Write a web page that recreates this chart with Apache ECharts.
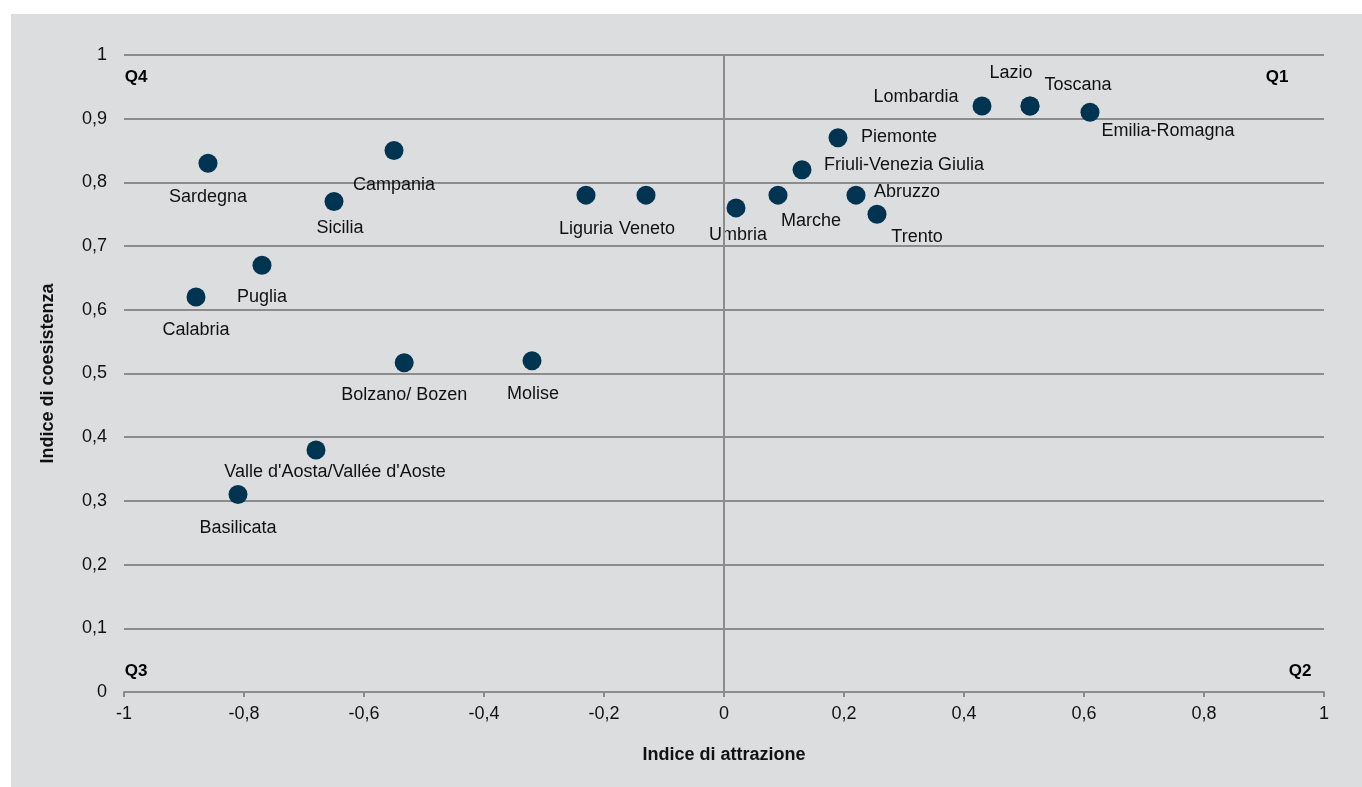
<!DOCTYPE html>
<html>
<head>
<meta charset="utf-8">
<script src="https://cdn.jsdelivr.net/npm/echarts@6/dist/echarts.min.js"></script>
<style>
html,body{margin:0;padding:0;background:#ffffff;}
#chart{position:absolute;left:11px;top:14px;width:1351px;height:773px;}
</style>
</head>
<body>
<div id="chart"></div>
<script>
// Data
const regions = ["Lombardia","Lazio","Toscana","Emilia-Romagna","Piemonte","Friuli-Venezia Giulia","Abruzzo","Trento","Marche","Umbria","Veneto","Liguria","Campania","Sardegna","Sicilia","Puglia","Calabria","Bolzano/ Bozen","Molise","Valle d'Aosta/Vallée d'Aoste","Basilicata"];
const attrazione = [0.43,0.51,0.51,0.61,0.19,0.13,0.22,0.255,0.09,0.02,-0.13,-0.23,-0.55,-0.86,-0.65,-0.77,-0.88,-0.533,-0.32,-0.68,-0.81];
const coesistenza = [0.92,0.92,0.92,0.91,0.87,0.82,0.78,0.75,0.78,0.76,0.78,0.78,0.85,0.83,0.77,0.67,0.62,0.517,0.52,0.38,0.31];
const xTicks = [-1,-0.8,-0.6,-0.4,-0.2,0,0.2,0.4,0.6,0.8,1];
const yTicks = [0,0.1,0.2,0.3,0.4,0.5,0.6,0.7,0.8,0.9,1];
const quadrants = ["Q1","Q2","Q3","Q4"];
const quadrantX = [1,1,-1,-1];
const quadrantY = [1,0,0,1];

// Label layout (text centre offset from marker, px)
const labelOffsets = {
  "Lombardia":[-66,-9],"Lazio":[-19,-33],"Toscana":[48,-21],"Emilia-Romagna":[78,19],
  "Piemonte":[61,-1],"Friuli-Venezia Giulia":[102,-5],"Abruzzo":[51,-3],"Trento":[40,23],
  "Marche":[33,26],"Umbria":[2,27],"Veneto":[1,34],"Liguria":[0,34],"Campania":[0,34],
  "Sardegna":[0,34],"Sicilia":[6,27],"Puglia":[0,32],"Calabria":[0,33],"Bolzano/ Bozen":[0,32],
  "Molise":[1,33],"Valle d'Aosta/Vallée d'Aoste":[19,22],"Basilicata":[0,34]
};
const quadOffsets = {"Q1":[-47,22],"Q2":[-24,-21],"Q3":[12,-21],"Q4":[12,22]};

const fmt = v => String(Math.round(v*10)/10).replace('.', ',');
const FONT = "'Liberation Sans', Arial, sans-serif";
const TXT = '#111111';

const pointData = regions.map((r,i)=>({
  name:r, value:[attrazione[i], coesistenza[i]],
  label:{offset:labelOffsets[r]}
}));
const quadData = quadrants.map((q,i)=>({
  name:q, value:[quadrantX[i], quadrantY[i]],
  label:{offset:quadOffsets[q]}
}));

const chart = echarts.init(document.getElementById('chart'));
chart.setOption({
  backgroundColor:'#dcdddf',
  animation:false,
  textStyle:{fontFamily:FONT},
  grid:{left:113,right:38,top:41,bottom:95},
  xAxis:{
    type:'value', min:-1, max:1, interval:0.2,
    name:'Indice di attrazione', nameLocation:'middle', nameGap:54,
    nameTextStyle:{fontFamily:FONT,fontSize:18,fontWeight:'bold',color:TXT},
    axisLine:{show:true,onZero:false,lineStyle:{color:'#8c8c8c',width:2}},
    axisTick:{show:true,length:5,lineStyle:{color:'#8c8c8c',width:2}},
    axisLabel:{fontFamily:FONT,fontSize:18,color:TXT,margin:13,formatter:fmt},
    splitLine:{show:false}
  },
  yAxis:{
    type:'value', min:0, max:1, interval:0.1,
    name:'Indice di coesistenza', nameLocation:'middle', nameGap:67,
    nameTextStyle:{fontFamily:FONT,fontSize:18,fontWeight:'bold',color:TXT},
    axisLine:{show:false,onZero:false},
    axisTick:{show:false},
    axisLabel:{fontFamily:FONT,fontSize:18,color:TXT,margin:17,formatter:fmt},
    splitLine:{show:true,lineStyle:{color:'#8c8c8c',width:2}}
  },
  series:[
    {
      type:'scatter', data:pointData, symbolSize:19,
      itemStyle:{color:'#003450',opacity:1},
      label:{show:true,position:'inside',align:'center',verticalAlign:'middle',
        formatter:p=>p.name,fontFamily:FONT,fontSize:18,color:TXT},
      markLine:{
        silent:true, symbol:['none','none'], label:{show:false},
        lineStyle:{color:'#8c8c8c',width:2,type:'solid'},
        data:[{xAxis:0}]
      },
      z:3
    },
    {
      type:'scatter', data:quadData, symbolSize:1,
      itemStyle:{color:'rgba(0,0,0,0)',opacity:1},
      label:{show:true,position:'inside',align:'center',verticalAlign:'middle',opacity:1,
        textBorderWidth:0,
        formatter:p=>p.name,fontFamily:FONT,fontSize:17,fontWeight:'bold',color:'#000000'},
      silent:true, z:4
    }
  ]
});
</script>
</body>
</html>
